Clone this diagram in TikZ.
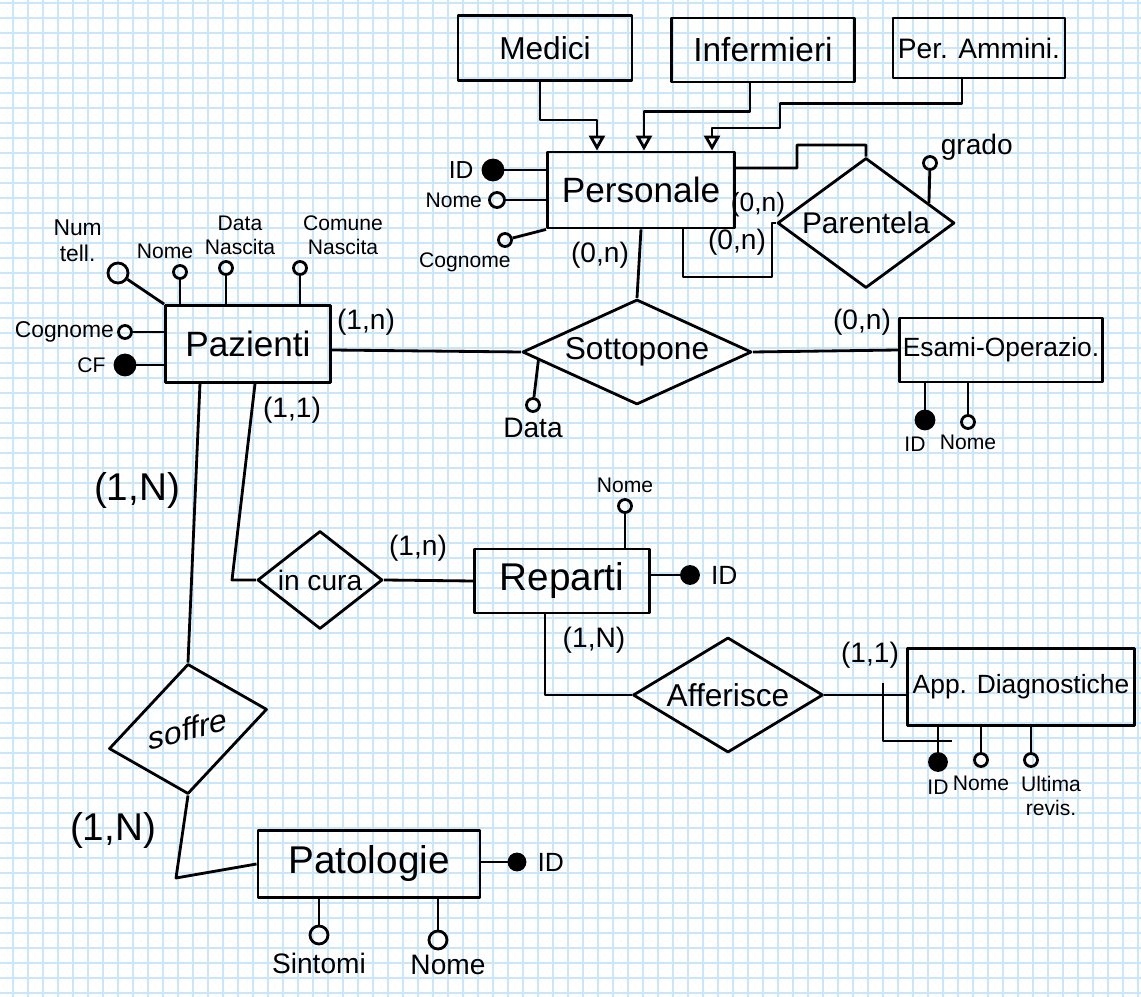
\documentclass[tikz,border=0pt]{standalone}
\usepackage{fontspec}
\setmainfont{Liberation Sans}
\usetikzlibrary{shapes.geometric,arrows.meta,positioning,calc}
\definecolor{gridblue}{RGB}{202,230,250}
\tikzset{entity/.style={
    draw,
    rectangle,
    inner sep=0pt,
    font=\fontsize{10}{12}\selectfont
  },
  relation/.style={
    draw,
    diamond,
    inner sep=0pt,
    font=\fontsize{9}{11}\selectfont
  },
  attr/.style={draw, circle, inner sep=0pt, minimum size=#1},
  attr/.default=0.13cm,
  key attr/.style={draw, circle, fill=black, inner sep=0pt, minimum size=#1},
  key attr/.default=0.17cm,
  card/.style={font=\fontsize{8}{9}\selectfont, inner sep=0pt},
  big card/.style={font=\fontsize{11}{12}\selectfont, inner sep=0pt},
  lbl/.style={font=\fontsize{6}{7}\selectfont, inner sep=0.5pt, align=center},
  big lbl/.style={lbl, font=\fontsize{8}{9}\selectfont},
  isa/.style={-{Triangle[open,length=0.15cm,width=0.16cm]}},
  grid line/.style={gridblue, line width=0.5pt}
}
\begin{document}
\begin{tikzpicture}[x=0.01cm, y=-0.01cm, line width=0.8pt, line join=round]
  \fill[white] (0,0) rectangle (1141,997);
  \useasboundingbox (0,0) rectangle (1141,997);
  \foreach \gx in {13,28,...,1138} \draw[grid line] (\gx,0) -- (\gx,997);
  \foreach \gy in {3,18,...,993} \draw[grid line] (0,\gy) -- (1141,\gy);

  \node[entity, minimum width=1.74cm, minimum height=0.65cm, font=\fontsize{9}{11}\selectfont] (medici) at (545,48) {Medici};
  \node[entity, minimum width=1.83cm, minimum height=0.64cm, font=\fontsize{9.5}{11}\selectfont] (infermieri) at (763,50) {Infermieri};
  \node[entity, minimum width=1.72cm, minimum height=0.60cm, font=\fontsize{8}{10}\selectfont] (peramm) at (979,48) {Per. Ammini.};
  \node[entity, minimum width=1.87cm, minimum height=0.76cm] (personale) at (641,190) {Personale};
  \node[entity, minimum width=1.65cm, minimum height=0.77cm] (pazienti) at (248,344) {Pazienti};
  \node[entity, minimum width=2.03cm, minimum height=0.64cm, font=\fontsize{7.5}{9}\selectfont] (esami) at (1001,350) {Esami-Operazio.};
  \node[entity, minimum width=1.75cm, minimum height=0.64cm, font=\fontsize{11}{13}\selectfont] (reparti) at (562,581) {Reparti};
  \node[entity, minimum width=2.27cm, minimum height=0.77cm, font=\fontsize{7.5}{9}\selectfont] (app) at (1021,687) {App. Diagnostiche};
  \node[entity, minimum width=2.22cm, minimum height=0.67cm, font=\fontsize{11}{13}\selectfont] (patologie) at (369,864) {Patologie};

  \node[relation, minimum width=1.77cm, minimum height=1.30cm, aspect=1.36, font=\fontsize{8.5}{10}\selectfont] (parentela) at (866,223) {Parentela};
  \node[relation, minimum width=2.29cm, minimum height=1.05cm, aspect=2.18] (sottopone) at (637,352) {Sottopone};
  \node[relation, minimum width=1.25cm, minimum height=0.98cm, aspect=1.28, font=\fontsize{8}{10}\selectfont] (incura) at (320,580) {in cura};
  \node[relation, minimum width=1.90cm, minimum height=1.15cm, aspect=1.65] (afferisce) at (728,695) {Afferisce};
  \node[relation, minimum width=1.58cm, minimum height=1.30cm, aspect=1.2, yslant=0.25] (soffre) at (188,729) {soffre};

  \draw[isa] ([xshift=-0.05cm]medici.south) -- ++(0,38) -| ([xshift=-0.44cm]personale.north);
  \draw[isa] ([xshift=-0.13cm]infermieri.south) -- ++(0,28) -| ([xshift=0.03cm]personale.north);
  \draw[isa] ([xshift=-0.17cm]peramm.south) -- ++(0,24) -| (780,128) -| ([xshift=0.71cm]personale.north);

  \node[key attr=0.2cm] (pers-id) at (493,170) {};
  \node[attr=0.15cm] (pers-nome) at (497,200) {};
  \node[attr] (pers-cogn) at (505,240) {};
  \draw (pers-id) -- (pers-id -| personale.west);
  \draw (pers-nome) -- (pers-nome -| personale.west);
  \draw (pers-cogn) -- (personale.south west);
  \node[lbl, font=\fontsize{7}{8}\selectfont, left=0.05cm of pers-id] (l-pers-id) {ID};
  \node[lbl, left=0.03cm of pers-nome] (l-pers-nome) {Nome};
  \node[lbl, below=0.02cm of pers-cogn, xshift=-0.4cm] (l-pers-cogn) {Cognome};

  \draw ([yshift=0.22cm]personale.east) -- (797,168) |- (parentela.north |- 0,145) -- (parentela.north);
  \draw ([xshift=0.42cm]personale.south) |- (772,277) |- (parentela.west);
  \node[attr] (grado) at (930,163) {};
  \draw (grado) -- ($(parentela.north)!0.7!(parentela.east)$);
  \node[big lbl, above right=-0.06cm and 0.02cm of grado] (l-grado) {grado};
  \node[card] (c-pers-sot) at (600,255) {(0,n)};
  \node[card, font=\fontsize{7.5}{8}\selectfont] (c-pers-par1) at (758,205) {(0,n)};
  \node[card] (c-pers-par2) at (737,242) {(0,n)};

  \node[attr=0.2cm] (paz-tel) at (118,273) {};
  \node[attr] (paz-nome) at (180,272) {};
  \node[attr] (paz-data) at (226,268) {};
  \node[attr] (paz-comune) at (300,268) {};
  \node[attr] (paz-cogn) at (125,332) {};
  \node[key attr=0.2cm] (paz-cf) at (125,365) {};
  \draw (paz-tel) -- (pazienti.north west);
  \draw (paz-nome) -- (paz-nome |- pazienti.north);
  \draw (paz-data) -- (paz-data |- pazienti.north);
  \draw (paz-comune) -- (paz-comune |- pazienti.north);
  \draw (paz-cogn) -- (paz-cogn -| pazienti.west);
  \draw (paz-cf) -- (paz-cf -| pazienti.west);
  \node[lbl, font=\fontsize{6.5}{7.5}\selectfont, above left=0cm and 0.05cm of paz-tel] (l-paz-tel) {Num\\tell.};
  \node[lbl, above=0.02cm of paz-nome, xshift=-0.15cm] (l-paz-nome) {Nome};
  \node[lbl, above=0.02cm of paz-data, xshift=0.14cm] (l-paz-data) {Data\\Nascita};
  \node[lbl, above=0.02cm of paz-comune, xshift=0.43cm] (l-paz-comune) {Comune\\Nascita};
  \node[lbl, font=\fontsize{6.5}{7.5}\selectfont, left=0cm of paz-cogn] (l-paz-cogn) {Cognome};
  \node[lbl, left=0.05cm of paz-cf] (l-paz-cf) {CF};

  \draw (personale.south) -- (sottopone.north);
  \draw ([yshift=-0.06cm]pazienti.east) -- (sottopone.west);
  \draw (sottopone.east) -- (esami.west);
  \node[attr] (sot-data) at (533,405) {};
  \draw (sot-data) -- ($(sottopone.west)!0.15!(sottopone.south)$);
  \node[big lbl, below=0.02cm of sot-data] (l-sot-data) {Data};
  \node[card] (c-paz-sot) at (366,322) {(1,n)};
  \node[card] (c-esa-sot) at (862,322) {(0,n)};

  \node[key attr=0.18cm] (esa-id) at (925,420) {};
  \node[attr] (esa-nome) at (968,422) {};
  \draw (esa-id) -- (esa-id |- esami.south);
  \draw (esa-nome) -- (esa-nome |- esami.south);
  \node[lbl, below=0.03cm of esa-id, xshift=-0.1cm] (l-esa-id) {ID};
  \node[lbl, below=0.02cm of esa-nome] (l-esa-nome) {Nome};

  \draw ([xshift=0.07cm]pazienti.south) -- (incura.west -| 232,0) -- (incura.west);
  \draw (incura.east) -- (reparti.west);
  \node[card] (c-paz-cur) at (292,410) {(1,1)};
  \node[card] (c-rep-cur) at (418,548) {(1,n)};

  \draw ([xshift=-0.48cm]pazienti.south) -- (soffre.north);
  \draw (soffre.south) -- (176,878) -- (patologie.west);
  \node[big card] (c-paz-sof) at (137,490) {(1,N)};
  \node[big card] (c-pat-sof) at (113,830) {(1,N)};

  \node[attr] (rep-nome) at (625,506) {};
  \node[key attr] (rep-id) at (690,575) {};
  \draw (rep-nome) -- (rep-nome |- reparti.north);
  \draw (reparti.east |- rep-id) -- (rep-id);
  \node[lbl, above=0.02cm of rep-nome] (l-rep-nome) {Nome};
  \node[lbl, font=\fontsize{7.5}{8}\selectfont, right=0.08cm of rep-id] (l-rep-id) {ID};

  \draw ([xshift=-0.17cm]reparti.south) |- (afferisce.west);
  \draw (afferisce.east) -- (afferisce.east -| app.west);
  \node[card] (c-rep-aff) at (594,640) {(1,N)};
  \node[card] (c-app-aff) at (870,655) {(1,1)};

  \node[key attr] (app-id) at (938,762) {};
  \node[attr] (app-nome) at (981,760) {};
  \node[attr] (app-rev) at (1031,760) {};
  \draw (app-id) -- (app-id |- app.south);
  \draw (app-nome) -- (app-nome |- app.south);
  \draw (app-rev) -- (app-rev |- app.south);
  \coordinate (app-idtop) at (883,683);
  \coordinate (app-idend) at (952,741);
  \draw (app-idtop) |- (app-idend);
  \node[lbl, below=0.05cm of app-id] (l-app-id) {ID};
  \node[lbl, below=0.05cm of app-nome] (l-app-nome) {Nome};
  \node[lbl, below=0.05cm of app-rev, xshift=0.2cm] (l-app-rev) {Ultima\\revis.};

  \node[key attr=0.16cm] (pat-id) at (517,862) {};
  \node[attr=0.18cm] (pat-sint) at (319,935) {};
  \node[attr=0.18cm] (pat-nome) at (438,940) {};
  \draw (patologie.east |- pat-id) -- (pat-id);
  \draw (pat-sint) -- (pat-sint |- patologie.south);
  \draw (pat-nome) -- (pat-nome |- patologie.south);
  \node[lbl, font=\fontsize{7.5}{8}\selectfont, right=0.08cm of pat-id] (l-pat-id) {ID};
  \node[big lbl, below=0.05cm of pat-sint] (l-pat-sint) {Sintomi};
  \node[big lbl, below=0.02cm of pat-nome, xshift=0.1cm] (l-pat-nome) {Nome};
\end{tikzpicture}
\end{document}
